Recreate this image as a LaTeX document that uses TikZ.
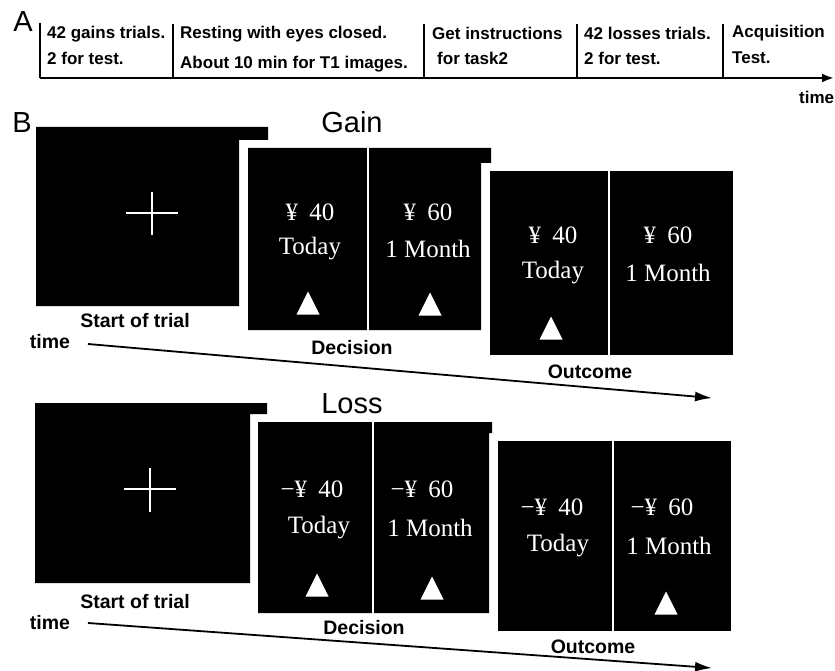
\documentclass[tikz,border=0pt]{standalone}
\usepackage{fontspec}
\setmainfont{Liberation Serif}
\setsansfont{Liberation Sans}
\usetikzlibrary{arrows.meta}
\begin{document}
\begin{tikzpicture}[x=1pt,y=-1pt,
  alab/.style={font=\sffamily\bfseries\fontsize{17}{20}\selectfont, anchor=west, inner sep=0},
  blab/.style={font=\sffamily\bfseries\fontsize{19.5}{22}\selectfont, inner sep=0},
  big/.style={font=\sffamily\fontsize{29}{32}\selectfont, inner sep=0},
  ttl/.style={font=\sffamily\fontsize{29}{32}\selectfont, inner sep=0},
  ft/.style={text=white, font=\fontsize{25}{28}\selectfont, inner sep=0},
  scr/.style={fill=black},
  divl/.style={white, line width=2.2pt},
  crs/.style={white, line width=1.6pt},
  axis/.style={line width=2.3pt},
  tarr/.style={line width=1.8pt, -{Latex[length=17pt,width=10pt]}},
  uptri/.pic={\fill[white] (-11.5,11.5) -- (11.5,11.5) -- (0,-11.5) -- cycle;}
]
\useasboundingbox (0,0) rectangle (835,671);

% ---------------- Panel A ----------------
\node[big] (A) at (23,22) {A};
\coordinate (a0) at (40,23);
\coordinate (a1) at (40,78);
\coordinate (a2) at (834,78);
\draw[axis] (a0) -- (a1);
\draw[axis, -{Latex[length=12pt,width=9pt]}] (a1) -- (a2);
\foreach \x/\n in {173/d1,424/d2,577/d3,723/d4}{
  \coordinate (\n t) at (\x,24);
  \coordinate (\n b) at (\x,78);
  \draw[axis] (\n t) -- (\n b);
}
\node[alab] (a11) at (47,34) {42 gains trials.};
\node[alab] (a12) at (47,58) {2 for test.};
\node[alab] (a21) at (180,34) {Resting with eyes closed.};
\node[alab] (a22) at (180,64) {About 10 min for T1 images.};
\node[alab] (a31) at (432,33) {Get instructions};
\node[alab] (a32) at (437,58) {for task2};
\node[alab] (a41) at (584,33) {42 losses trials.};
\node[alab] (a42) at (584,58) {2 for test.};
\node[alab] (a51) at (732,33) {Acquisition};
\node[alab] (a52) at (732,58) {Test.};
\node[alab] (atime) at (799,97) {time};

% ---------------- Panel B: Gain ----------------
\node[big] (B) at (22,123) {B};
\node[ttl] (gain) at (352,122) {Gain};
\fill[scr] (36,127) -- (268,127) -- (268,140) -- (239,140) -- (239,306) -- (36,306) -- cycle;
\draw[crs] (126,213) -- (178,213);
\draw[crs] (152,192) -- (152,235);
\fill[scr] (248,148) -- (491,148) -- (491,163) -- (481,163) -- (481,330) -- (248,330) -- cycle;
\draw[divl] (368,148) -- (368,332);
\fill[scr] (490,171) rectangle (733,355);
\draw[divl] (609,171) -- (609,357);

\node[ft] (gd1) at (310,212) {¥\hspace{0.45em}40};
\node[ft] (gd2) at (310,249) {Today};
\pic at (308,303) {uptri};
\node[ft] (gd3) at (428,212) {¥\hspace{0.45em}60};
\node[ft] (gd4) at (428,249) {1 Month};
\pic at (430,304) {uptri};

\node[ft] (go1) at (553,235) {¥\hspace{0.45em}40};
\node[ft] (go2) at (553,273) {Today};
\pic at (551,328) {uptri};
\node[ft] (go3) at (668,235) {¥\hspace{0.45em}60};
\node[ft] (go4) at (668,273) {1 Month};

\node[blab] (gs) at (135,321) {Start of trial};
\node[blab] (gdec) at (352,348) {Decision};
\node[blab] (gout) at (590,372) {Outcome};
\node[blab] (gtime) at (50,342) {time};
\coordinate (ga0) at (88,344);
\coordinate (ga1) at (712,398);
\draw[tarr] (ga0) -- (ga1);

% ---------------- Panel B: Loss ----------------
\node[ttl] (loss) at (352,404) {Loss};
\fill[scr] (35,403) -- (267,403) -- (267,414) -- (250,414) -- (250,583) -- (35,583) -- cycle;
\draw[crs] (124,489) -- (176,489);
\draw[crs] (150,468) -- (150,512);
\fill[scr] (258,422) -- (492,422) -- (492,433) -- (489,433) -- (489,613) -- (258,613) -- cycle;
\draw[divl] (373,422) -- (373,615);
\fill[scr] (498,441) rectangle (731,631);
\draw[divl] (613,441) -- (613,633);

\node[ft] (ld1) at (312,489) {−¥\hspace{0.45em}40};
\node[ft] (ld2) at (319,528) {Today};
\pic at (317,585) {uptri};
\node[ft] (ld3) at (422,489) {−¥\hspace{0.45em}60};
\node[ft] (ld4) at (430,528) {1 Month};
\pic at (432,588) {uptri};

\node[ft] (lo1) at (552,507) {−¥\hspace{0.45em}40};
\node[ft] (lo2) at (558,546) {Today};
\node[ft] (lo3) at (662,507) {−¥\hspace{0.45em}60};
\node[ft] (lo4) at (669,546) {1 Month};
\pic at (666,603) {uptri};

\node[blab] (ls) at (135,602) {Start of trial};
\node[blab] (ldec) at (364,628) {Decision};
\node[blab] (lout) at (593,647) {Outcome};
\node[blab] (ltime) at (50,623) {time};
\coordinate (la0) at (88,623);
\coordinate (la1) at (712,668);
\draw[tarr] (la0) -- (la1);
\end{tikzpicture}
\end{document}
